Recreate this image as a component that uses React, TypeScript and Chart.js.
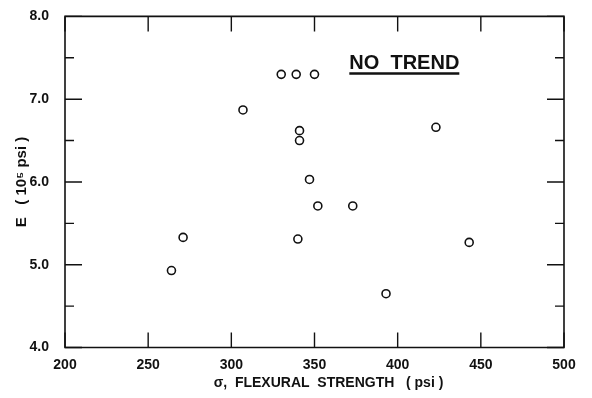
import { useEffect, useRef } from "react";
import { Chart, registerables } from "chart.js";

Chart.register(...registerables);

// Data
const flexuralStrength = [264, 271, 330, 339, 350, 307, 341, 341, 347, 423, 352, 373, 340, 443, 393];
const modulus = [4.93, 5.33, 7.3, 7.3, 7.3, 6.87, 6.62, 6.5, 6.03, 6.66, 5.71, 5.71, 5.31, 5.27, 4.65];
const xTickValues = [200, 250, 300, 350, 400, 450, 500];
const yTickValues = [4, 5, 6, 7, 8];
const yMinorTickValues = [4.5, 5.5, 6.5, 7.5];
const annotationText = "NO  TREND";
const annotationX = 404;
const annotationY = 7.37;

const INK = "#111";
const FAMILY = "'Liberation Sans', Arial, sans-serif";

const framePlugin = {
  id: "frameAndTicks",
  afterDraw(chart: any) {
    const { ctx, chartArea } = chart;
    const xs = chart.scales.x;
    const ys = chart.scales.y;
    const { left, right, top, bottom } = chartArea;
    ctx.save();
    ctx.strokeStyle = INK;
    ctx.lineWidth = 1.6;
    ctx.beginPath();
    ctx.rect(left, top, right - left, bottom - top);
    ctx.stroke();
    ctx.lineWidth = 1.4;
    ctx.beginPath();
    for (const v of xTickValues) {
      const px = xs.getPixelForValue(v);
      ctx.moveTo(px, bottom);
      ctx.lineTo(px, bottom - 15);
      ctx.moveTo(px, top);
      ctx.lineTo(px, top + 15);
    }
    for (const v of yTickValues) {
      const py = ys.getPixelForValue(v);
      ctx.moveTo(left, py);
      ctx.lineTo(left + 17, py);
      ctx.moveTo(right, py);
      ctx.lineTo(right - 17, py);
    }
    for (const v of yMinorTickValues) {
      const py = ys.getPixelForValue(v);
      ctx.moveTo(left, py);
      ctx.lineTo(left + 9, py);
      ctx.moveTo(right, py);
      ctx.lineTo(right - 9, py);
    }
    ctx.stroke();

    // annotation
    const ax = xs.getPixelForValue(annotationX);
    const ay = ys.getPixelForValue(annotationY);
    ctx.font = `bold 20px ${FAMILY}`;
    ctx.fillStyle = INK;
    ctx.textAlign = "center";
    ctx.textBaseline = "alphabetic";
    ctx.fillText(annotationText, ax, ay);
    const w = ctx.measureText(annotationText).width;
    ctx.lineWidth = 2.4;
    ctx.beginPath();
    ctx.moveTo(ax - w / 2, ay + 5);
    ctx.lineTo(ax + w / 2, ay + 5);
    ctx.stroke();
    ctx.restore();
  },
};

export default function App() {
  const canvasRef = useRef<HTMLCanvasElement | null>(null);

  useEffect(() => {
    if (!canvasRef.current) return;
    const chart = new Chart(canvasRef.current, {
      type: "scatter",
      data: {
        datasets: [
          {
            data: flexuralStrength.map((x, i) => ({ x, y: modulus[i] })),
            pointStyle: "circle",
            pointRadius: 4,
            pointHoverRadius: 4,
            pointBorderWidth: 1.6,
            pointBorderColor: INK,
            pointBackgroundColor: "rgba(255,255,255,0)",
          },
        ],
      },
      options: {
        animation: false,
        responsive: true,
        maintainAspectRatio: false,
        events: [],
        layout: { padding: { top: 16, right: 28, left: 0, bottom: 0 } },
        plugins: {
          legend: { display: false },
          tooltip: { enabled: false },
        },
        scales: {
          x: {
            type: "linear",
            min: 200,
            max: 500,
            grid: { display: false },
            border: { display: false },
            afterBuildTicks: (s: any) => {
              s.ticks = xTickValues.map((value) => ({ value }));
            },
            afterFit: (s: any) => {
              s.height = 50.5;
            },
            ticks: {
              padding: 1,
              color: INK,
              font: { family: FAMILY, size: 14, weight: "bold" },
              callback: (v: any) => String(v),
            },
            title: {
              display: true,
              text: "\u2002\u2002\u2002\u2002σ,  FLEXURAL  STRENGTH   ( psi )",
              color: INK,
              font: { family: FAMILY, size: 14, weight: "bold" },
              padding: { top: 0, bottom: 6 },
            },
          },
          y: {
            type: "linear",
            min: 4,
            max: 8,
            grid: { display: false },
            border: { display: false },
            afterBuildTicks: (s: any) => {
              s.ticks = yTickValues.map((value) => ({ value }));
            },
            afterFit: (s: any) => {
              s.width = 65;
            },
            ticks: {
              padding: 8,
              color: INK,
              font: { family: FAMILY, size: 14, weight: "bold" },
              callback: (v: any) => Number(v).toFixed(1),
            },
            title: {
              display: true,
              text: "E   ( 10⁵ psi )",
              color: INK,
              font: { family: FAMILY, size: 15, weight: "bold" },
              padding: { top: 13, bottom: 0 },
            },
          },
        },
      },
      plugins: [framePlugin],
    });
    return () => chart.destroy();
  }, []);

  return (
    <div style={{ position: "fixed", left: 0, top: 0, width: 592, height: 398, background: "#fff" }}>
      <canvas ref={canvasRef} />
    </div>
  );
}
